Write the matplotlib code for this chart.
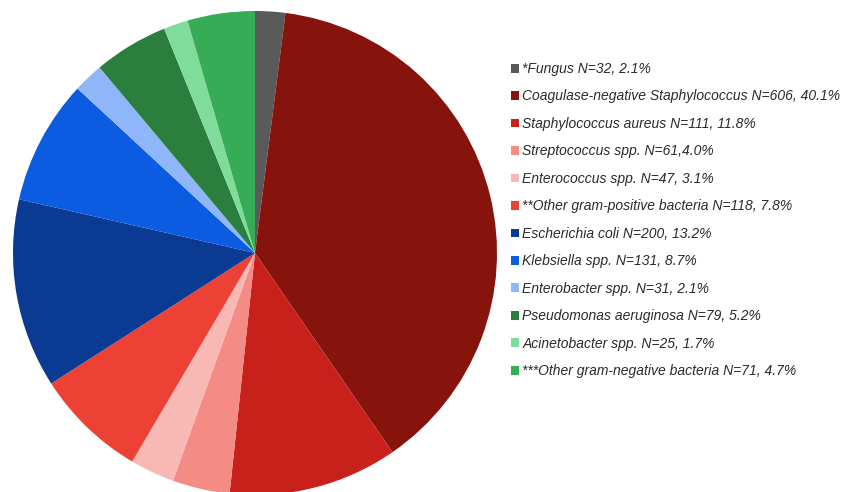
import matplotlib
matplotlib.use("Agg")
import matplotlib.pyplot as plt

labels = [
    "*Fungus N=32, 2.1%",
    "Coagulase-negative Staphylococcus N=606, 40.1%",
    "Staphylococcus aureus N=111, 11.8%",
    "Streptococcus spp. N=61,4.0%",
    "Enterococcus spp. N=47, 3.1%",
    "**Other gram-positive bacteria N=118, 7.8%",
    "Escherichia coli N=200, 13.2%",
    "Klebsiella spp. N=131, 8.7%",
    "Enterobacter spp. N=31, 2.1%",
    "Pseudomonas aeruginosa N=79, 5.2%",
    "Acinetobacter spp. N=25, 1.7%",
    "***Other gram-negative bacteria N=71, 4.7%",
]
counts = [32, 606, 111, 61, 47, 118, 200, 131, 31, 79, 25, 71]
percents = [2.1, 40.1, 11.8, 4.0, 3.1, 7.8, 13.2, 8.7, 2.1, 5.2, 1.7, 4.7]
colors = ["#5a5a5a", "#87140c", "#c8201a", "#f48b85", "#f8b8b4", "#ee4136",
          "#0a3a92", "#0b5ce0", "#8fb6f8", "#2a7f3e", "#7fdc9a", "#35ac55"]

W, H = 841, 492
fig = plt.figure(figsize=(W / 100, H / 100), dpi=100)
fig.patch.set_facecolor("white")

cx, cy, r = 255, 253, 242
ax = fig.add_axes([(cx - r) / W, (H - cy - r) / H, 2 * r / W, 2 * r / H])
wedges, _ = ax.pie(percents, colors=colors, startangle=90, counterclock=False,
                   radius=1, wedgeprops=dict(linewidth=0))
ax.set_xlim(-1, 1)
ax.set_ylim(-1, 1)
ax.set_aspect("auto")
ax.axis("off")

leg = fig.legend(wedges, labels, loc="upper left",
                 bbox_to_anchor=(511 / W, 1 - 62 / H),
                 frameon=False, handlelength=0.6, handleheight=0.6,
                 handletextpad=0.22, labelspacing=0.97, borderpad=0,
                 borderaxespad=0,
                 prop=dict(family="Liberation Sans", style="italic", size=10))
for t in leg.get_texts():
    t.set_color("#2a2a2a")

fig.savefig("out.png", dpi=100)
